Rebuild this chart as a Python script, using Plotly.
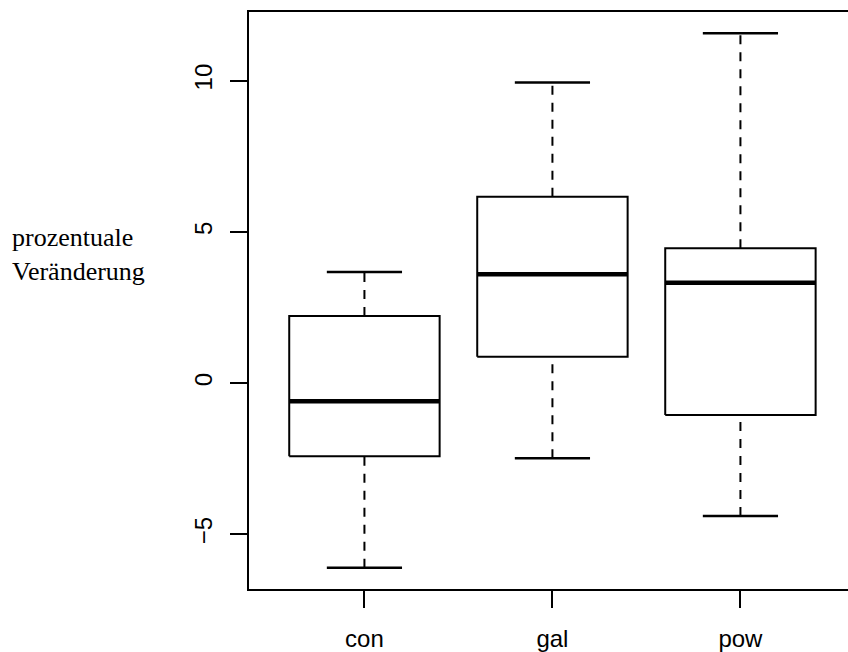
import plotly.graph_objects as go

categories = ["con", "gal", "pow"]
lower_whisker = [-6.11, -2.49, -4.40]
q1 = [-2.42, 0.87, -1.06]
median = [-0.60, 3.60, 3.32]
q3 = [2.22, 6.16, 4.46]
upper_whisker = [3.67, 9.94, 11.57]
y_ticks = [-5, 0, 5, 10]

BOX_HALF = 0.4
CAP_HALF = 0.2
LINE = "black"

fig = go.Figure()
for i, name in enumerate(categories):
    c = i + 1
    # whiskers (dashed)
    fig.add_trace(go.Scatter(x=[c, c], y=[q3[i], upper_whisker[i]], mode="lines",
                             line=dict(color=LINE, width=2, dash="9px,8px"), showlegend=False, hoverinfo="skip"))
    fig.add_trace(go.Scatter(x=[c, c], y=[lower_whisker[i], q1[i]], mode="lines",
                             line=dict(color=LINE, width=2, dash="9px,8px"), showlegend=False, hoverinfo="skip"))
    # caps
    for v in (lower_whisker[i], upper_whisker[i]):
        fig.add_trace(go.Scatter(x=[c - CAP_HALF, c + CAP_HALF], y=[v, v], mode="lines",
                                 line=dict(color=LINE, width=2.5), showlegend=False, hoverinfo="skip"))
    # box
    fig.add_trace(go.Scatter(x=[c - BOX_HALF, c + BOX_HALF, c + BOX_HALF, c - BOX_HALF, c - BOX_HALF],
                             y=[q1[i], q1[i], q3[i], q3[i], q1[i]], mode="lines",
                             fill="toself", fillcolor="white",
                             line=dict(color=LINE, width=2), showlegend=False, hoverinfo="skip"))
    # median
    fig.add_trace(go.Scatter(x=[c - BOX_HALF, c + BOX_HALF], y=[median[i], median[i]], mode="lines",
                             line=dict(color=LINE, width=4.5), showlegend=False, hoverinfo="skip"))

fig.update_layout(
    width=848, height=652,
    margin=dict(l=249, r=0, t=12, b=63),
    paper_bgcolor="white", plot_bgcolor="white",
    font=dict(family="Liberation Sans, Arial, sans-serif", size=24, color="black"),
    xaxis=dict(range=[0.386, 0.386 + 599 / 188], tickmode="array", tickvals=[1, 2, 3], ticktext=categories,
               showgrid=False, zeroline=False, showline=True, linecolor="black", linewidth=2, mirror=True,
               ticks="outside", ticklen=17, tickwidth=2, tickcolor="black", ticklabelstandoff=10),
    yaxis=dict(range=[-6.81, 12.27], tickmode="array", tickvals=y_ticks, ticktext=[str(t).replace("-", "\u2212") for t in y_ticks],
               showgrid=False, zeroline=False, showline=True, linecolor="black", linewidth=2,
               ticks="outside", ticklen=17, tickwidth=2, tickcolor="black", tickangle=-90, ticklabelstandoff=8),
    annotations=[dict(text="prozentuale<br>Veränderung", xref="paper", yref="paper",
                      x=(10 - 249) / 599, y=(589 - 254) / 577, xanchor="left", yanchor="middle", align="left",
                      showarrow=False, font=dict(family="Liberation Serif, Times New Roman, serif", size=26, color="black"))],
)

fig.write_html("out.html")
